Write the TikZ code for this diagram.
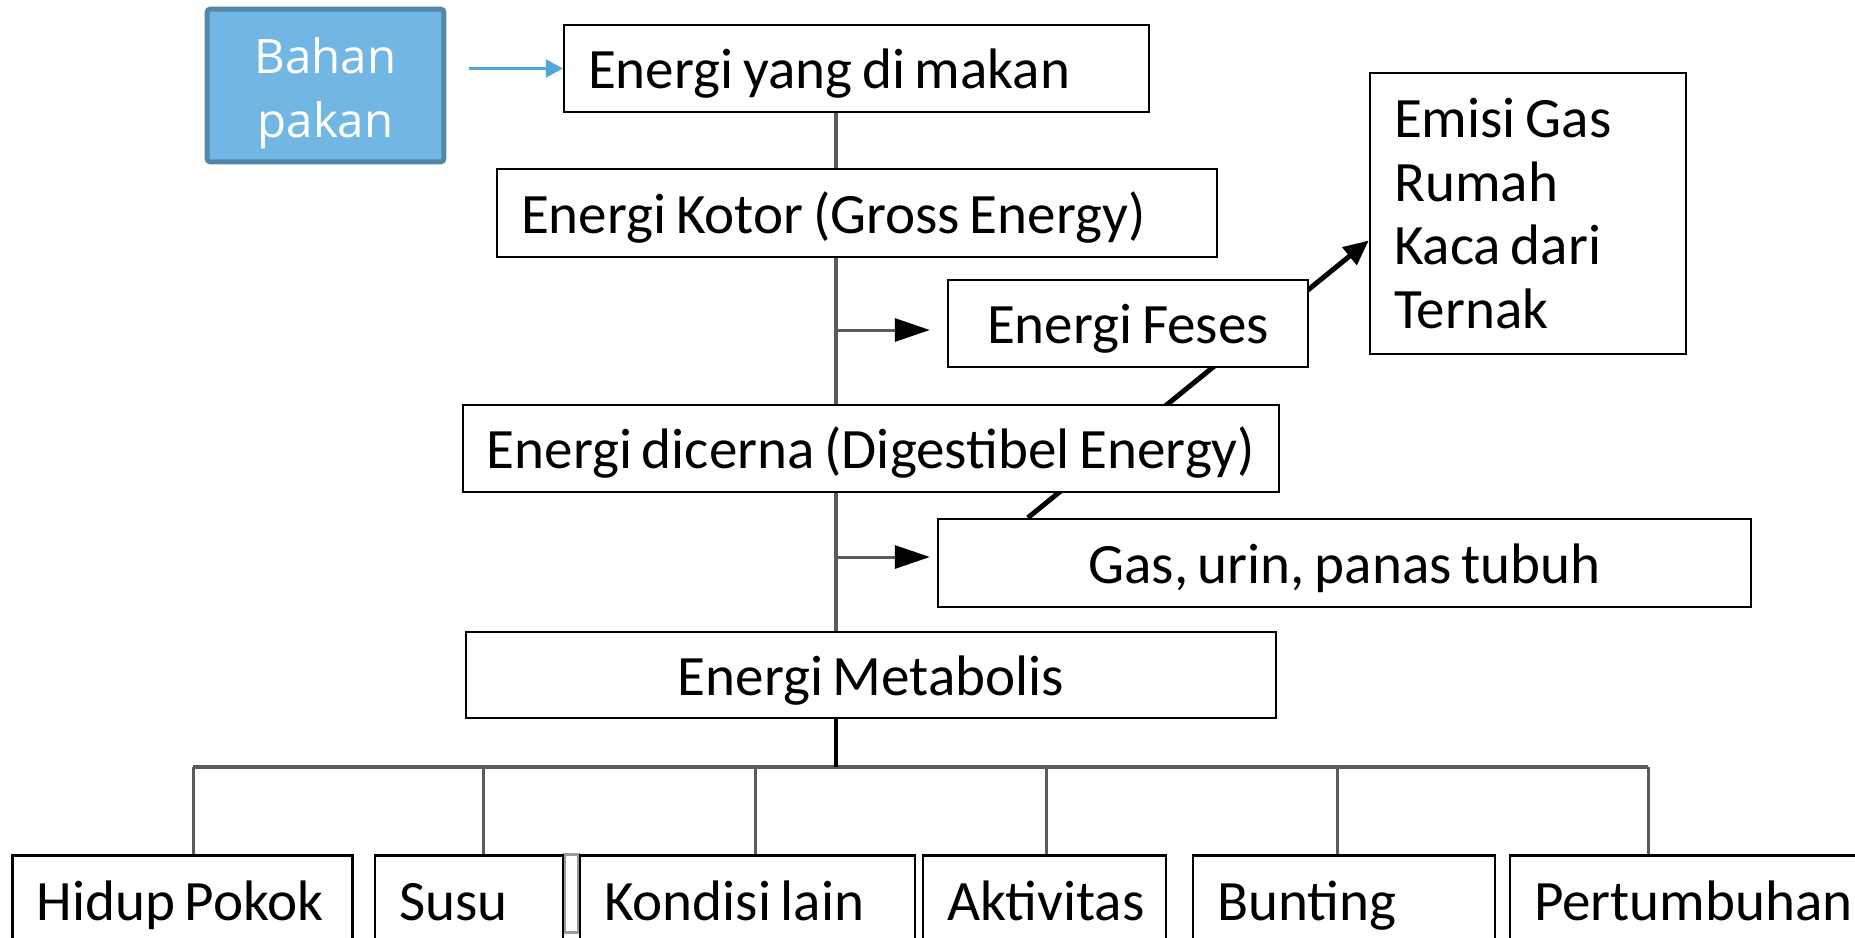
\documentclass[tikz,border=0pt]{standalone}
\usepackage{fontspec}
\setmainfont[WordSpace=0.75]{Carlito}
\newfontfamily\pakanfont{Open Sans}
\usetikzlibrary{arrows.meta,calc,backgrounds}
\definecolor{pakanisi}{HTML}{72B6E3}
\definecolor{pakantepi}{HTML}{5387A8}
\definecolor{birupanah}{HTML}{4FA7DC}
\definecolor{abu}{HTML}{5A5A5A}
\tikzset{
	kotak/.style={draw=black, line width=0.05cm, fill=white, inner xsep=0.48cm,
		font=\fontsize{32.5}{36.3}\selectfont},
	satu/.style={text height=0.8cm, text depth=0pt},
	kiri/.style={kotak, satu, align=flush left, text width=#1},
	tengah/.style={kotak, satu, minimum width=#1},
	bawah/.style={kotak, align=flush left, text width=#1, anchor=north,
		inner ysep=0.5cm, text height=0.8cm, text depth=1cm},
	tulang/.style={draw=abu, line width=0.07cm},
	panah/.style={draw=abu, line width=0.06cm,
		-{Triangle[length=0.7cm, width=0.46cm, color=black]}},
	cabang/.style={draw=abu, line width=0.06cm}
}
\begin{document}
\begin{tikzpicture}[x=0.02cm, y=-0.02cm]
\useasboundingbox (0,0) rectangle (1855,937);
\clip (0,0) rectangle (1855,937);
% Bahan pakan
\node[draw=pakantepi, line width=0.1cm, fill=pakanisi, rounded corners=2pt,
	minimum width=4.74cm, minimum height=3.06cm, text=white,
	font=\pakanfont\fontsize{27}{36.9}\selectfont] (pakan) at (325.5,85.5)
	{\raisebox{-0.14cm}[\height][\depth]{\begin{tabular}{@{}c@{}}Bahan\\pakan\end{tabular}}};
% Alur energi
\node[kiri=10.74cm, minimum height=1.74cm] (makan) at (856.5,68.5) {Energi yang di makan};
\node[kiri=13.44cm, minimum height=1.76cm] (kotor) at (857,213) {Energi Kotor (Gross Energy)};
\node[tengah=7.2cm, minimum height=1.74cm] (feses) at (1128,323.5) {Energi Feses};
\node[tengah=16.2cm, minimum height=1.74cm] (cerna) at (871,448.5) {Energi dicerna (Digestibel Energy)};
\node[tengah=16.26cm, minimum height=1.76cm] (gas) at (1344.5,563) {Gas, urin, panas tubuh};
\node[tengah=16.2cm, minimum height=1.72cm] (metab) at (871,675) {Energi Metabolis};
\node[kotak, align=flush left, text width=5.36cm, minimum height=5.62cm] (emisi) at (1528,213.5)
	{Emisi Gas\\Rumah\\Kaca dari\\Ternak};
% Kebutuhan
\node[bawah=5.84cm] (hidup) at (182.5,854) {Hidup Pokok};
\node[bawah=2.8cm] (susu) at (469,854) {Susu};
\node[bawah=5.74cm] (kondisi) at (747.5,854) {Kondisi lain};
\node[bawah=3.9cm] (aktif) at (1044.5,854) {Aktivitas};
\node[bawah=5.08cm] (bunting) at (1344,854) {Bunting};
\node[bawah=6.46cm] (tumbuh) at (1695.5,854) {Pertumbuhan};
% Garis dan panah
\draw[line width=0.05cm, birupanah, -{Triangle[length=0.34cm, width=0.36cm]},
	shorten <=0.46cm] (pakan.east |- makan.west) -- (makan.west);
\coordinate (sp) at (836,0);
\coordinate (kefeses) at ($(feses.west)+(0,6.5)$);
\coordinate (kegas) at ($(gas.west)+(0,-6)$);
\draw[tulang] (makan.south -| sp) -- (kotor.north -| sp);
\draw[tulang] (kotor.south -| sp) -- (cerna.north -| sp);
\draw[tulang] (cerna.south -| sp) -- (metab.north -| sp);
\draw[panah, shorten >=0.34cm] (sp |- kefeses) -- (kefeses);
\draw[panah, shorten >=0.14cm] (sp |- kegas) -- (kegas);
\begin{scope}[on background layer]
	\draw[line width=0.1cm, -{Triangle[length=0.5cm, width=0.44cm]}]
		($(gas.north west)+(91,0)$) -- ($(emisi.west)+(0,27)$);
	\draw[draw=abu!60, line width=0.06cm] (susu.north east) rectangle ($(kondisi.north west)+(0,78)$);
\end{scope}
\foreach \n/\x in {hidup/193, susu/483, kondisi/755, aktif/1046, bunting/1337, tumbuh/1648} {
	\coordinate (c\n) at (\x,767);
	\draw[cabang] (c\n) -- (\n.north -| c\n);
}
\draw[draw=abu, line width=0.09cm] (chidup) -- (ctumbuh);
\draw[line width=0.07cm] (metab.south -| sp) -- (sp |- chidup);
\end{tikzpicture}
\end{document}
